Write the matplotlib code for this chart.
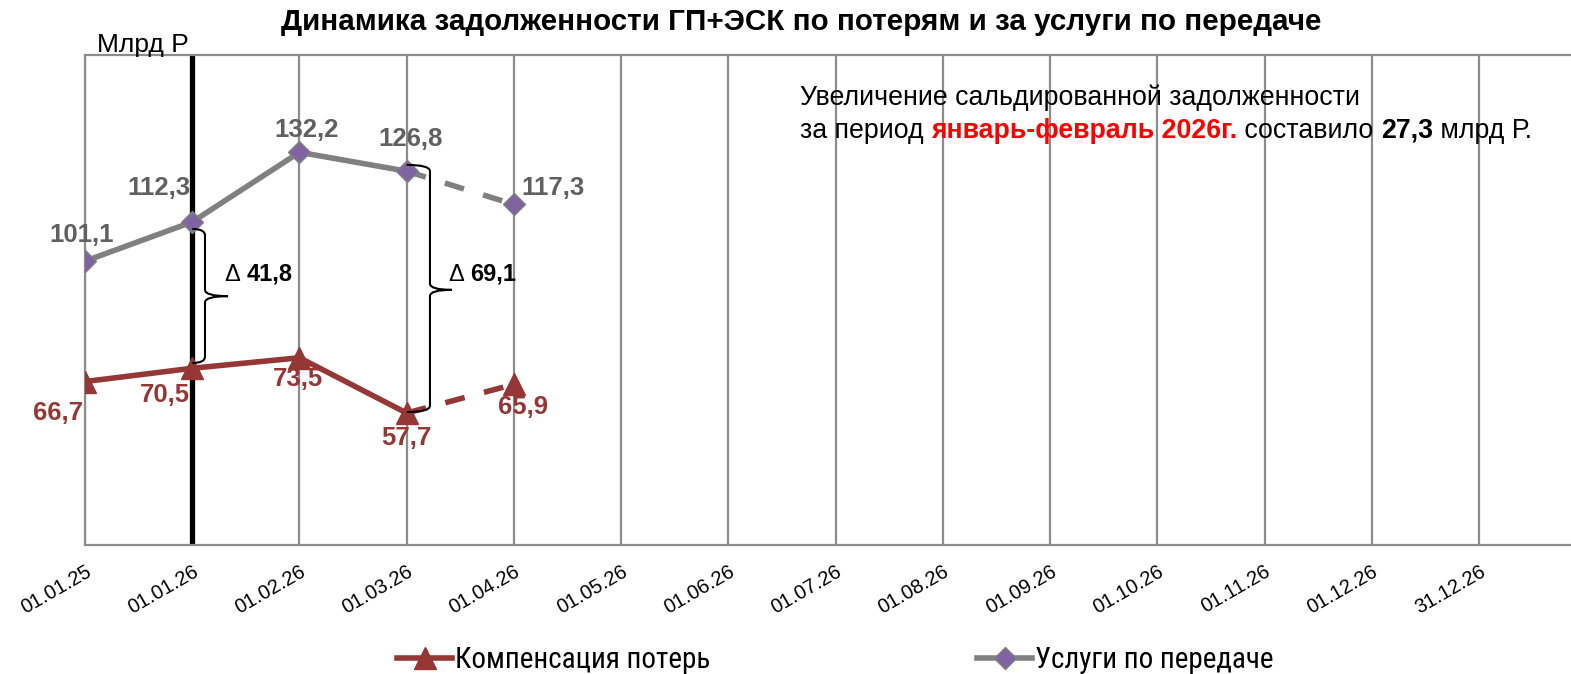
import numpy as np
import matplotlib.pyplot as plt
from matplotlib.path import Path
from matplotlib.patches import PathPatch
from matplotlib.lines import Line2D

plt.rcParams['font.family'] = ['Liberation Sans', 'DejaVu Sans']

# Data
dates = ['01.01.25', '01.01.26', '01.02.26', '01.03.26', '01.04.26', '01.05.26', '01.06.26',
         '01.07.26', '01.08.26', '01.09.26', '01.10.26', '01.11.26', '01.12.26', '31.12.26']
losses = [66.7, 70.5, 73.5, 57.7, 65.9]         # Компенсация потерь
transfer = [101.1, 112.3, 132.2, 126.8, 117.3]  # Услуги по передаче
n_fact = 4  # points joined by a solid line, the rest is dashed
loss_label_off = [(-27.5, -31), (-27, -27), (-1, -21), (0, -25), (9, -23)]
trans_label_off = [(-3, 26), (-33, 34), (7, 22), (4, 32), (39, 16)]

RED = '#953735'
GRAY = '#808080'
GRAY_TXT = '#606060'
PURPLE = '#8064A2'
W, H = 1571, 674

fig = plt.figure(figsize=(W / 100, H / 100), dpi=100)
ax = fig.add_axes([85 / W, 1 - 545 / H, 1 - 85 / W, 490 / H])
ax.set_xlim(0, (W - 85) / 107.23)
ax.set_ylim(20, 160)

x = np.arange(len(dates))
for xi in x:
    ax.axvline(xi, color='#8c8c8c', lw=1.6, zorder=1)
ax.axvline(1, color='black', lw=3.8, zorder=2)

ax.spines['right'].set_visible(False)
for s in ['top', 'bottom', 'left']:
    ax.spines[s].set_color('#8c8c8c')
    ax.spines[s].set_linewidth(1.6)
ax.set_yticks([])
ax.set_xticks(x)
ax.set_xticklabels(dates, rotation=30, ha='right', va='top', rotation_mode='anchor', fontsize=14.5)
ax.tick_params(axis='x', length=0, pad=12)

xs = x[:len(losses)]
dash = (0, (3.6, 3.6))
ax.plot(xs[:n_fact], transfer[:n_fact], color=GRAY, lw=4, zorder=3)
ax.plot(xs[n_fact - 1:], transfer[n_fact - 1:], color=GRAY, lw=4, ls=dash, zorder=3)
ax.plot(xs, transfer, ls='none', marker='D', ms=11.5, mfc=PURPLE, mec=GRAY, mew=1, zorder=4)

ax.plot(xs[:n_fact], losses[:n_fact], color=RED, lw=4, zorder=3)
ax.plot(xs[n_fact - 1:], losses[n_fact - 1:], color=RED, lw=4, ls=dash, zorder=3)
ax.plot(xs, losses, ls='none', marker='^', ms=16, mfc=RED, mec=RED, zorder=4)

for xi, v, off in zip(xs, transfer, trans_label_off):
    ax.annotate(f'{v:.1f}'.replace('.', ','), (xi, v), xytext=(off[0] * 0.72, off[1] * 0.72),
                textcoords='offset points', ha='center', va='center', fontsize=18.5,
                fontweight='bold', color=GRAY_TXT, zorder=5)
for xi, v, off in zip(xs, losses, loss_label_off):
    ax.annotate(f'{v:.1f}'.replace('.', ','), (xi, v), xytext=(off[0] * 0.72, off[1] * 0.72),
                textcoords='offset points', ha='center', va='center', fontsize=18.5,
                fontweight='bold', color=RED, zorder=5)


def brace(i, top, bot, mid, xv, xt):
    ry = 1.8
    verts = [(i, top), (xv, top), (xv, top - ry),
             (xv, mid + ry), (xv, mid), (xt, mid),
             (xv, mid), (xv, mid - ry),
             (xv, bot + ry), (xv, bot), (i, bot)]
    codes = [Path.MOVETO, Path.CURVE3, Path.CURVE3,
             Path.LINETO, Path.CURVE3, Path.CURVE3,
             Path.CURVE3, Path.CURVE3,
             Path.LINETO, Path.CURVE3, Path.CURVE3]
    ax.add_patch(PathPatch(Path(verts, codes), fill=False, lw=1.5, color='black', zorder=5))


# braces with the gap between the two series
for i, top_off, bot_off, mid, xv, xt in [(1, -2.0, 1.5, 91.1, 1.119, 1.334),
                                          (3, 1.8, 0.3, 92.9, 3.217, 3.42)]:
    brace(i, transfer[i] + top_off, losses[i] + bot_off, mid, xv, xt)
    d = transfer[i] - losses[i]
    t = ax.text(xt - 0.025, 97.2, '\u0394 ', fontsize=17, va='center', ha='left', zorder=5)
    ax.annotate(f'{d:.1f}'.replace('.', ','), xy=(1, 0), xycoords=t, va='bottom', ha='left',
                fontsize=17, fontweight='bold', zorder=5)

fig.text(97 / W, 1 - 52 / H, 'Млрд Р', fontsize=19, va='baseline', ha='left')

fig.text(801 / W, 1 - 22 / H, 'Динамика задолженности ГП+ЭСК по потерям и за услуги по передаче',
         fontsize=21.3, fontweight='bold', ha='center', va='center')

# note on the right
fig.text(800 / W, 1 - 105 / H, 'Увеличение сальдированной задолженности', fontsize=19.3,
         va='baseline', ha='left')
parts = [('январь-февраль 2026г.', 'bold', 'red'), (' составило ', 'normal', 'black'),
         ('27,3', 'bold', 'black'), (' млрд Р.', 'normal', 'black')]
prev = fig.text(800 / W, 1 - 138 / H, 'за период ', fontsize=19.3, va='baseline', ha='left')
for s, w, c in parts:
    prev = ax.annotate(s, xy=(1, 0), xycoords=prev, va='bottom', ha='left', fontsize=19.3,
                       fontweight=w, color=c, annotation_clip=False)

# legend, two entries placed separately
entries = [(Line2D([], [], color=RED, lw=4, marker='^', ms=16, mfc=RED, mec=RED),
            'Компенсация потерь', 397),
           (Line2D([], [], color=GRAY, lw=4, marker='D', ms=11.5, mfc=PURPLE, mec=GRAY),
            'Услуги по передаче', 977)]
for h, lab, px in entries:
    fig.legend([h], [lab], loc='center left', bbox_to_anchor=(px / W, 1 - 660 / H), frameon=False,
               prop={'family': ['Roboto Condensed', 'Liberation Sans'], 'size': 21},
               handlelength=1.9, handletextpad=0.1, borderpad=0, borderaxespad=0)

fig.savefig('out.png', dpi=100)
